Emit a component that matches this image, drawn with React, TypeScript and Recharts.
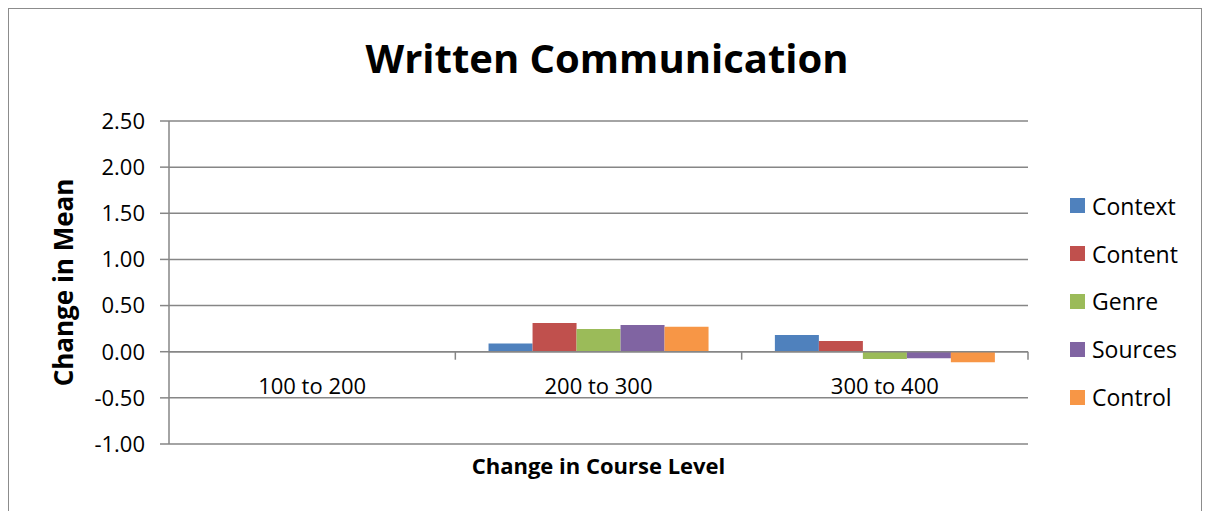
import React from "react"
import { BarChart, Bar, XAxis, YAxis, CartesianGrid, Legend, ReferenceLine } from "recharts"

const categories = ["100 to 200", "200 to 300", "300 to 400"]
const context = [0, 0.09, 0.18]
const content = [0, 0.31, 0.115]
const genre = [0, 0.245, -0.08]
const sources = [0, 0.29, -0.07]
const control = [0, 0.27, -0.115]
const yTicks = [-1, -0.5, 0, 0.5, 1, 1.5, 2, 2.5]

const series = [
  { key: "Context", values: context, color: "#4F81BD" },
  { key: "Content", values: content, color: "#C0504D" },
  { key: "Genre", values: genre, color: "#9BBB59" },
  { key: "Sources", values: sources, color: "#8064A2" },
  { key: "Control", values: control, color: "#F79646" },
]

const data = categories.map((name, i) => {
  const row: Record<string, string | number> = { name }
  series.forEach((s) => {
    row[s.key] = s.values[i]
  })
  return row
})

const W = 1205
const H = 511
const LEGEND_W = 130
const MARGIN = { top: 121, right: 177 - LEGEND_W, left: 0, bottom: 0 }
const Y_AXIS_W = 169
const X_AXIS_H = 67
const PLOT_H = H - MARGIN.top - MARGIN.bottom - X_AXIS_H
const Y_MIN = -1
const Y_MAX = 2.5
const FONT = "'Open Sans', sans-serif"
const GRID = "#868686"

// category labels sit under the zero line, like Excel does
function CategoryTick(props: any) {
  const { x, y, payload } = props
  const zeroY = y - (PLOT_H * (0 - Y_MIN)) / (Y_MAX - Y_MIN)
  const right = x + (payload.offset || 0)
  return (
    <g>
      <line x1={right} x2={right} y1={zeroY} y2={zeroY + 8} stroke={GRID} strokeWidth={1.5} />
      <text x={x} y={zeroY + 42} textAnchor="middle" fontSize={22} fontFamily={FONT} fill="#000">
        {payload.value}
      </text>
    </g>
  )
}

function LegendBox() {
  return (
    <div style={{ fontFamily: FONT, fontSize: 23, color: "#000" }}>
      {series.map((s) => (
        <div key={s.key} style={{ display: "flex", alignItems: "center", height: 47.8 }}>
          <span style={{ width: 15, height: 15, background: s.color, display: "inline-block", marginRight: 7 }} />
          <span>{s.key}</span>
        </div>
      ))}
    </div>
  )
}

export default function App() {
  return (
    <div style={{ position: "relative", width: W, height: H, overflow: "hidden", background: "#fff" }}>
      <style>{`body{margin:0;overflow:hidden}`}</style>
      <div
        style={{
          position: "absolute",
          left: 8,
          top: 8,
          width: 1194,
          height: 600,
          border: "1.5px solid #8c8c8c",
          boxSizing: "border-box",
        }}
      />
      <div
        style={{
          position: "absolute",
          left: 0,
          width: 1214,
          top: 38,
          textAlign: "center",
          fontFamily: FONT,
          fontWeight: 700,
          fontSize: 40,
          lineHeight: "40px",
          color: "#000",
        }}
      >
        Written Communication
      </div>
      <div style={{ position: "absolute", left: 0, top: 0 }}>
        <BarChart width={W} height={H} data={data} margin={MARGIN} barCategoryGap="11.6%" barGap={0}>
          <CartesianGrid vertical={false} stroke={GRID} strokeWidth={1.5} />
          <XAxis
            dataKey="name"
            height={X_AXIS_H}
            axisLine={false}
            tickLine={false}
            tickSize={0}
            tickMargin={0}
            tick={<CategoryTick />}
            interval={0}
            label={{
              content: (p: any) => (
                <text
                  x={p.viewBox.x + p.viewBox.width / 2}
                  y={p.viewBox.y + 30}
                  textAnchor="middle"
                  fontFamily={FONT}
                  fontWeight={700}
                  fontSize={22}
                  fill="#000"
                >
                  Change in Course Level
                </text>
              ),
            }}
          />
          <YAxis
            width={Y_AXIS_W}
            domain={[Y_MIN, Y_MAX]}
            ticks={yTicks}
            interval={0}
            tickFormatter={(v: number) => v.toFixed(2)}
            tick={{ fontSize: 22, fontFamily: FONT, fill: "#000" }}
            tickSize={9}
            tickMargin={15}
            stroke={GRID}
            strokeWidth={1.5}
            label={{
              content: (p: any) => {
                const cx = 63
                const cy = p.viewBox.y + p.viewBox.height / 2
                return (
                  <text
                    x={cx}
                    y={cy}
                    transform={`rotate(-90 ${cx} ${cy})`}
                    textAnchor="middle"
                    dominantBaseline="central"
                    fontFamily={FONT}
                    fontWeight={700}
                    fontSize={26}
                    fill="#000"
                  >
                    Change in Mean
                  </text>
                )
              },
            }}
          />
          <ReferenceLine y={0} stroke={GRID} strokeWidth={1.5} />
          {series.map((s) => (
            <Bar key={s.key} dataKey={s.key} fill={s.color} isAnimationActive={false} />
          ))}
          <Legend
            layout="vertical"
            align="right"
            verticalAlign="middle"
            width={LEGEND_W}
            content={<LegendBox />}
            wrapperStyle={{ position: "absolute", left: 1070, top: 182, width: LEGEND_W }}
          />
        </BarChart>
      </div>
    </div>
  )
}
